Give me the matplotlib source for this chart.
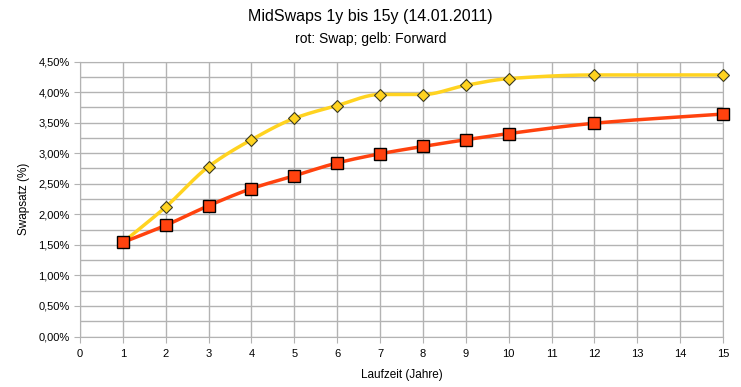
import numpy as np
import matplotlib.pyplot as plt
from matplotlib.ticker import FuncFormatter, MultipleLocator

plt.rcParams['font.family'] = ['Liberation Sans', 'DejaVu Sans']

laufzeit = [1, 2, 3, 4, 5, 6, 7, 8, 9, 10, 12, 15]
swap = [1.54, 1.82, 2.14, 2.42, 2.63, 2.84, 2.99, 3.11, 3.22, 3.32, 3.49, 3.64]
forward = [1.54, 2.12, 2.78, 3.22, 3.57, 3.78, 3.96, 3.96, 4.11, 4.22, 4.28, 4.28]


def pchip(x, y, n=40):
    # monotone cubic line through the points, only for drawing
    x = np.asarray(x, float)
    y = np.asarray(y, float)
    h = np.diff(x)
    d = np.diff(y) / h
    m = np.zeros_like(y)
    m[0], m[-1] = d[0], d[-1]
    for k in range(1, len(x) - 1):
        if d[k - 1] * d[k] > 0:
            w1 = 2 * h[k] + h[k - 1]
            w2 = h[k] + 2 * h[k - 1]
            m[k] = (w1 + w2) / (w1 / d[k - 1] + w2 / d[k])
    xs, ys = [], []
    for k in range(len(x) - 1):
        t = np.linspace(0, 1, n)
        h00 = 2 * t**3 - 3 * t**2 + 1
        h10 = t**3 - 2 * t**2 + t
        h01 = -2 * t**3 + 3 * t**2
        h11 = t**3 - t**2
        xs.append(x[k] + t * h[k])
        ys.append(h00 * y[k] + h10 * h[k] * m[k] + h01 * y[k + 1] + h11 * h[k] * m[k + 1])
    return np.concatenate(xs), np.concatenate(ys)


fig = plt.figure(figsize=(7.41, 3.87), dpi=100)
ax = fig.add_axes([80 / 741, 1 - 336.5 / 387, 643 / 741, 275 / 387])

red = '#ff420e'
yellow = '#ffd320'

xf, yf = pchip(laufzeit, forward)
ax.plot(xf, yf, color=yellow, lw=2.5, zorder=3, clip_on=False)
ax.plot(laufzeit, forward, 'D', ms=6.5, mfc=yellow, mec='#3a3a20', mew=0.8, zorder=4, clip_on=False)

xs, ys = pchip(laufzeit, swap)
ax.plot(xs, ys, color=red, lw=2.5, zorder=3, clip_on=False)
ax.plot(laufzeit, swap, 's', ms=9, mfc=red, mec='black', mew=1.0, zorder=5, clip_on=False)

ax.set_xlim(0, 15)
ax.set_ylim(0, 4.5)
ax.xaxis.set_major_locator(MultipleLocator(1))
ax.yaxis.set_major_locator(MultipleLocator(0.5))
ax.yaxis.set_minor_locator(MultipleLocator(0.25))
ax.yaxis.set_major_formatter(FuncFormatter(lambda v, p: ('%.2f%%' % v).replace('.', ',')))

ax.grid(True, which='both', color='#b3b3b3', lw=1)
ax.set_axisbelow(True)
for s in ax.spines.values():
    s.set_color('#b3b3b3')
ax.tick_params(which='both', colors='#b3b3b3', labelcolor='black', labelsize=8, length=4)
ax.tick_params(axis='y', which='minor', length=0)
ax.tick_params(axis='x', pad=5)

ax.set_xlabel('Laufzeit (Jahre)', fontsize=8.5, labelpad=7)
ax.set_ylabel('Swapsatz (%)', fontsize=8.5, labelpad=6)

fig.text(0.5, 1 - 17 / 387, 'MidSwaps 1y bis 15y (14.01.2011)', ha='center', va='center', fontsize=11.5)
fig.text(0.5, 1 - 39 / 387, 'rot: Swap; gelb: Forward', ha='center', va='center', fontsize=10)

fig.savefig('out.png', dpi=100)
